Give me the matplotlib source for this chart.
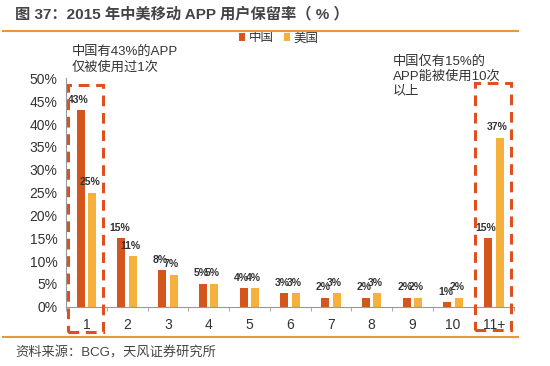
import matplotlib.pyplot as plt
from matplotlib.lines import Line2D
from matplotlib.patches import Rectangle
import numpy as np

# === DATA ===
categories = ["1", "2", "3", "4", "5", "6", "7", "8", "9", "10", "11+"]
china = [43, 15, 8, 5, 4, 3, 2, 2, 2, 1, 15]
usa = [25, 11, 7, 5, 4, 3, 3, 3, 2, 2, 37]

C_CN = "#D4561C"
C_US = "#F6B13D"
C_BOX = "#E0501E"
C_LINE = "#E8973A"
TXT = "#333333"

plt.rcParams["font.family"] = ["Liberation Sans", "Noto Sans CJK SC"]

fig = plt.figure(figsize=(5.5, 3.66), dpi=100)
ax = fig.add_axes([0.12, 0.162, 0.815, 0.624])

x = np.arange(len(categories))
w = 0.2
off = 0.14
ax.bar(x - off, china, width=w, color=C_CN, label="中国")
ax.bar(x + off, usa, width=w, color=C_US, label="美国")

# value labels (they crowd each other in the original too)
for i in range(len(categories)):
    ax.text(x[i] - off - 0.05, china[i] + 1.2, f"{china[i]}%", ha="center", va="bottom",
            fontsize=7.5, fontweight="bold", color=TXT)
    ax.text(x[i] + off - 0.05, usa[i] + 1.2, f"{usa[i]}%", ha="center", va="bottom",
            fontsize=7.5, fontweight="bold", color=TXT)

ax.set_xlim(-0.5, len(categories) - 0.5)
ax.set_ylim(0, 50)
ax.set_yticks(range(0, 51, 5))
ax.set_yticklabels([f"{v}%" for v in range(0, 51, 5)], fontsize=10, color=TXT)
ax.set_xticks(x)
ax.set_xticklabels(categories, fontsize=10, color=TXT)
ax.tick_params(axis="x", length=0, pad=8)
ax.set_xticks(np.arange(-0.5, len(categories), 1), minor=True)
ax.tick_params(axis="x", which="minor", length=3, color="#999999")
ax.tick_params(axis="y", length=0, pad=6)
for s in ["top", "right"]:
    ax.spines[s].set_visible(False)
ax.spines["left"].set_color("#999999")
ax.spines["bottom"].set_color("#999999")

# dashed highlight boxes
for x0, x1, y0, y1 in [(-0.45, 0.41, -5.5, 48.5), (9.54, 10.43, -5.1, 49.0)]:
    ax.add_patch(Rectangle((x0, y0), x1 - x0, y1 - y0, fill=False, edgecolor=C_BOX,
                           linewidth=2.2, linestyle=(0, (3.5, 2.2)), clip_on=False, zorder=5))

ax.legend(loc="upper left", bbox_to_anchor=(0.36, 1.25), ncol=2, frameon=False,
          fontsize=9, handlelength=0.5, handleheight=0.5, handletextpad=0.3,
          columnspacing=0.8, labelcolor=TXT)

fig.text(72 / 550, 1 - 46 / 366, "中国有43%的APP\n仅被使用过1次", fontsize=9.5, color=TXT,
         va="top", ha="left", linespacing=1.3)
fig.text(393 / 550, 1 - 55 / 366, "中国仅有15%的\nAPP能被使用10次\n以上", fontsize=9.5,
         color=TXT, va="top", ha="left", linespacing=1.3)

# title and source
fig.text(15 / 550, 1 - 14 / 366, "图 37：2015 年中美移动 APP 用户保留率（ % ）", fontsize=11,
         fontweight="bold", color="#444444", va="center", ha="left")
fig.add_artist(Line2D([3 / 550, 518 / 550], [1 - 31 / 366] * 2, color=C_LINE, linewidth=1.5))
fig.add_artist(Line2D([3 / 550, 518 / 550], [1 - 337 / 366] * 2, color=C_LINE, linewidth=1.5))
fig.text(15 / 550, 1 - 353 / 366, "资料来源：BCG，天风证券研究所", fontsize=9.5, color="#444444",
         va="center", ha="left")

fig.savefig("out.png", dpi=100)
